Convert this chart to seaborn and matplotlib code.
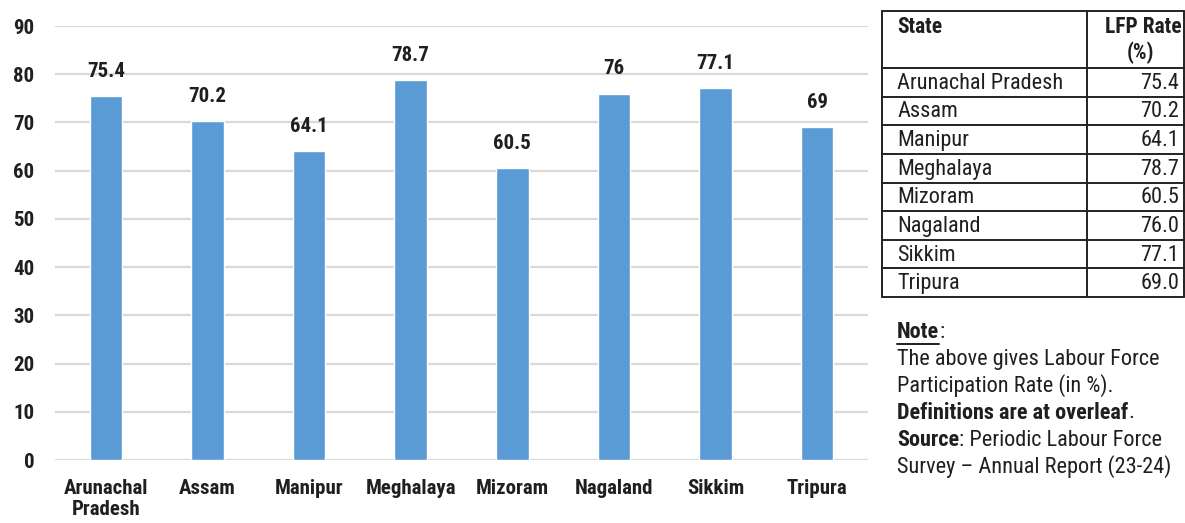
import matplotlib
matplotlib.use("Agg")
import matplotlib.pyplot as plt
from matplotlib import font_manager
import seaborn as sns
import pandas as pd

states = ["Arunachal\nPradesh", "Assam", "Manipur", "Meghalaya", "Mizoram",
          "Nagaland", "Sikkim", "Tripura"]
table_states = ["Arunachal Pradesh", "Assam", "Manipur", "Meghalaya", "Mizoram",
                "Nagaland", "Sikkim", "Tripura"]
lfp_rate = [75.4, 70.2, 64.1, 78.7, 60.5, 76.0, 77.1, 69.0]
y_ticks = [0, 10, 20, 30, 40, 50, 60, 70, 80, 90]

sns.set_theme(style="white")

# Condensed sans family with regular and bold weights
available = {f.name for f in font_manager.fontManager.ttflist}
base = "Roboto Condensed" if "Roboto Condensed" in available else "Liberation Sans"
family = [base, "DejaVu Sans"]
plt.rcParams["font.family"] = family

INK = "#1f1f1f"
fig = plt.figure(figsize=(11.85, 5.23), dpi=100)
W, H = 1185, 523
ax = fig.add_axes([55 / W, 63 / H, (868 - 55) / W, (497 - 63) / H])

df = pd.DataFrame({"State": states, "Rate": lfp_rate})
sns.barplot(data=df, x="State", y="Rate", color="#5B9BD5", saturation=1,
            width=0.32, ax=ax, zorder=3)

ax.set_ylim(0, 90)
ax.set_yticks(y_ticks)
ax.set_xlim(-0.5, len(states) - 0.5)
ax.yaxis.grid(True, color="#D9D9D9", linewidth=1.6, zorder=0)
ax.set_axisbelow(True)
for s in ax.spines.values():
    s.set_visible(False)
ax.set_xlabel("")
ax.set_ylabel("")
ax.tick_params(axis="y", length=0, pad=15, labelsize=15, colors=INK)
ax.tick_params(axis="x", length=0, pad=13.5, labelsize=15, colors=INK)
for lab in ax.get_yticklabels() + ax.get_xticklabels():
    lab.set_fontweight("bold")
for lab in ax.get_xticklabels():
    lab.set_verticalalignment("top")
    lab.set_linespacing(1.12)

for i, v in enumerate(lfp_rate):
    ax.annotate(f"{v:g}", (i, v), xytext=(0, 11), textcoords="offset points",
                ha="center", va="bottom", fontsize=15, fontweight="bold",
                color=INK)

# Data table on the right
def fx(px):
    return px / W

def fy(py):
    return 1 - py / H

left, mid, right = 882, 1087, 1184
top, header_bottom, bottom = 11, 68, 297
row_h = (bottom - header_bottom) / len(table_states)
line_kw = dict(color="#222222", linewidth=1.4, transform=fig.transFigure)
fig.add_artist(plt.Line2D([fx(left), fx(right)], [fy(top), fy(top)], **line_kw))
fig.add_artist(plt.Line2D([fx(left), fx(right)], [fy(header_bottom), fy(header_bottom)], **line_kw))
for k in range(1, len(table_states) + 1):
    yy = header_bottom + k * row_h
    fig.add_artist(plt.Line2D([fx(left), fx(right)], [fy(yy), fy(yy)], **line_kw))
for xx in (left, mid, right):
    fig.add_artist(plt.Line2D([fx(xx), fx(xx)], [fy(top), fy(bottom)], **line_kw))

hdr = dict(fontsize=15.5, fontweight="bold", color=INK)
fig.text(fx(897), fy(27), "State", ha="left", va="center", **hdr)
fig.text(fx(1182), fy(27), "LFP Rate", ha="right", va="center", **hdr)
fig.text(fx(1140), fy(53), "(%)", ha="center", va="center", **hdr)
cell = dict(fontsize=16, color=INK)
for k, (name, v) in enumerate(zip(table_states, lfp_rate)):
    yc = header_bottom + (k + 0.5) * row_h + 1
    fig.text(fx(897), fy(yc), name, ha="left", va="center", **cell)
    fig.text(fx(1179), fy(yc), f"{v:.1f}", ha="right", va="center", **cell)

# Note block
note_x = fx(897)
fig.canvas.draw()
rend = fig.canvas.get_renderer()

def run(parts, py):
    """Draw consecutive text pieces (text, bold) on one line."""
    x = note_x
    for s, b in parts:
        t = fig.text(x, fy(py), s, ha="left", va="center", fontsize=16, color=INK,
                     fontweight="bold" if b else "normal")
        bb = t.get_window_extent(renderer=rend)
        if s == "Note":
            fig.add_artist(plt.Line2D([bb.x0 / W, bb.x1 / W],
                                      [(bb.y0 - 1) / H, (bb.y0 - 1) / H],
                                      color=INK, linewidth=1.4,
                                      transform=fig.transFigure))
        x = bb.x1 / W

run([("Note", True), (":", False)], 332)
run([("The above gives Labour Force", False)], 359)
run([("Participation Rate (in %).", False)], 386)
run([("Definitions are at overleaf", True), (".", False)], 413)
run([("Source", True), (": Periodic Labour Force", False)], 440)
run([("Survey \u2013 Annual Report (23-24)", False)], 467)

fig.savefig("out.png", dpi=100, facecolor="white")
